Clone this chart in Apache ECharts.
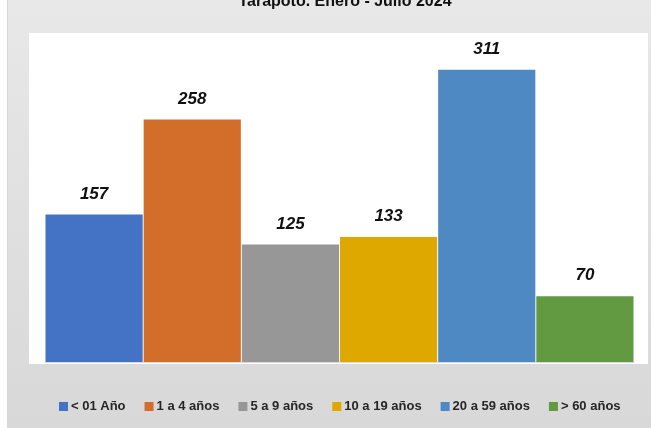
<!DOCTYPE html>
<html><head><meta charset="utf-8">
<script src="https://cdn.jsdelivr.net/npm/echarts@6/dist/echarts.min.js"></script>
<style>html,body{margin:0;padding:0;background:#fff}#c{width:651px;height:428px}</style>
</head><body><div id="c"></div>
<script>
const categories = ['< 01 Año','1 a 4 años','5 a 9 años','10 a 19 años','20 a 59 años','> 60 años'];
const values = [157, 258, 125, 133, 311, 70];
const colors = ['#4472C4','#D36D2A','#979797','#DFA800','#4F89C4','#619A40'];
const titleText = 'Tarapoto. Enero - Julio 2024';

const chart = echarts.init(document.getElementById('c'), null, {renderer:'canvas'});
const series = categories.map((name, i) => ({
  name: name,
  type: 'bar',
  stack: 'all',
  barWidth: '99%',
  data: categories.map((_, j) => j === i ? values[i] : null),
  itemStyle: { color: colors[i] },
  label: {
    show: true, position: 'top', distance: 12,
    fontSize: 17, fontWeight: 'bold', fontStyle: 'italic',
    fontFamily: 'Liberation Sans, Arial, sans-serif', color: '#111'
  }
}));
chart.setOption({
  animation: false,
  backgroundColor: {
    type: 'linear', x: 0, y: 0, x2: 0, y2: 1,
    colorStops: [{offset: 0, color: '#e8e8e8'}, {offset: 1, color: '#d8d8d8'}]
  },
  graphic: [
    { type: 'rect', z: -10, shape: {x: 0, y: 0, width: 7, height: 428}, style: {fill: '#ffffff'} },
    { type: 'rect', z: -10, shape: {x: 7, y: 0, width: 1, height: 428}, style: {fill: '#d6d6d6'} },
    { type: 'rect', z: -10, shape: {x: 29, y: 33, width: 619, height: 331}, style: {fill: '#ffffff'} }
  ],
  title: {
    text: titleText, left: 340, textAlign: 'center', top: -11,
    textStyle: { fontSize: 16, fontWeight: 'bold', color: '#111', fontFamily: 'Liberation Sans, Arial, sans-serif' }
  },
  legend: {
    bottom: 10, left: 54,
    itemWidth: 9, itemHeight: 9, itemGap: 19,
    icon: 'rect',
    textStyle: { fontSize: 13, fontWeight: 'bold', color: '#262626', fontFamily: 'Liberation Sans Narrow, Arial Narrow, Liberation Sans, sans-serif', padding: [0,0,0,-2] },
    data: categories
  },
  grid: { left: 45, right: 17, top: 33, bottom: 66 },
  xAxis: {
    type: 'category', data: categories,
    axisLine: { show: true, lineStyle: { color: '#d9d9d9', width: 1 } },
    axisTick: { show: false }, axisLabel: { show: false }
  },
  yAxis: {
    type: 'value', min: 0, max: 350, show: false, splitLine: { show: false }
  },
  series: series
});
</script></body></html>
